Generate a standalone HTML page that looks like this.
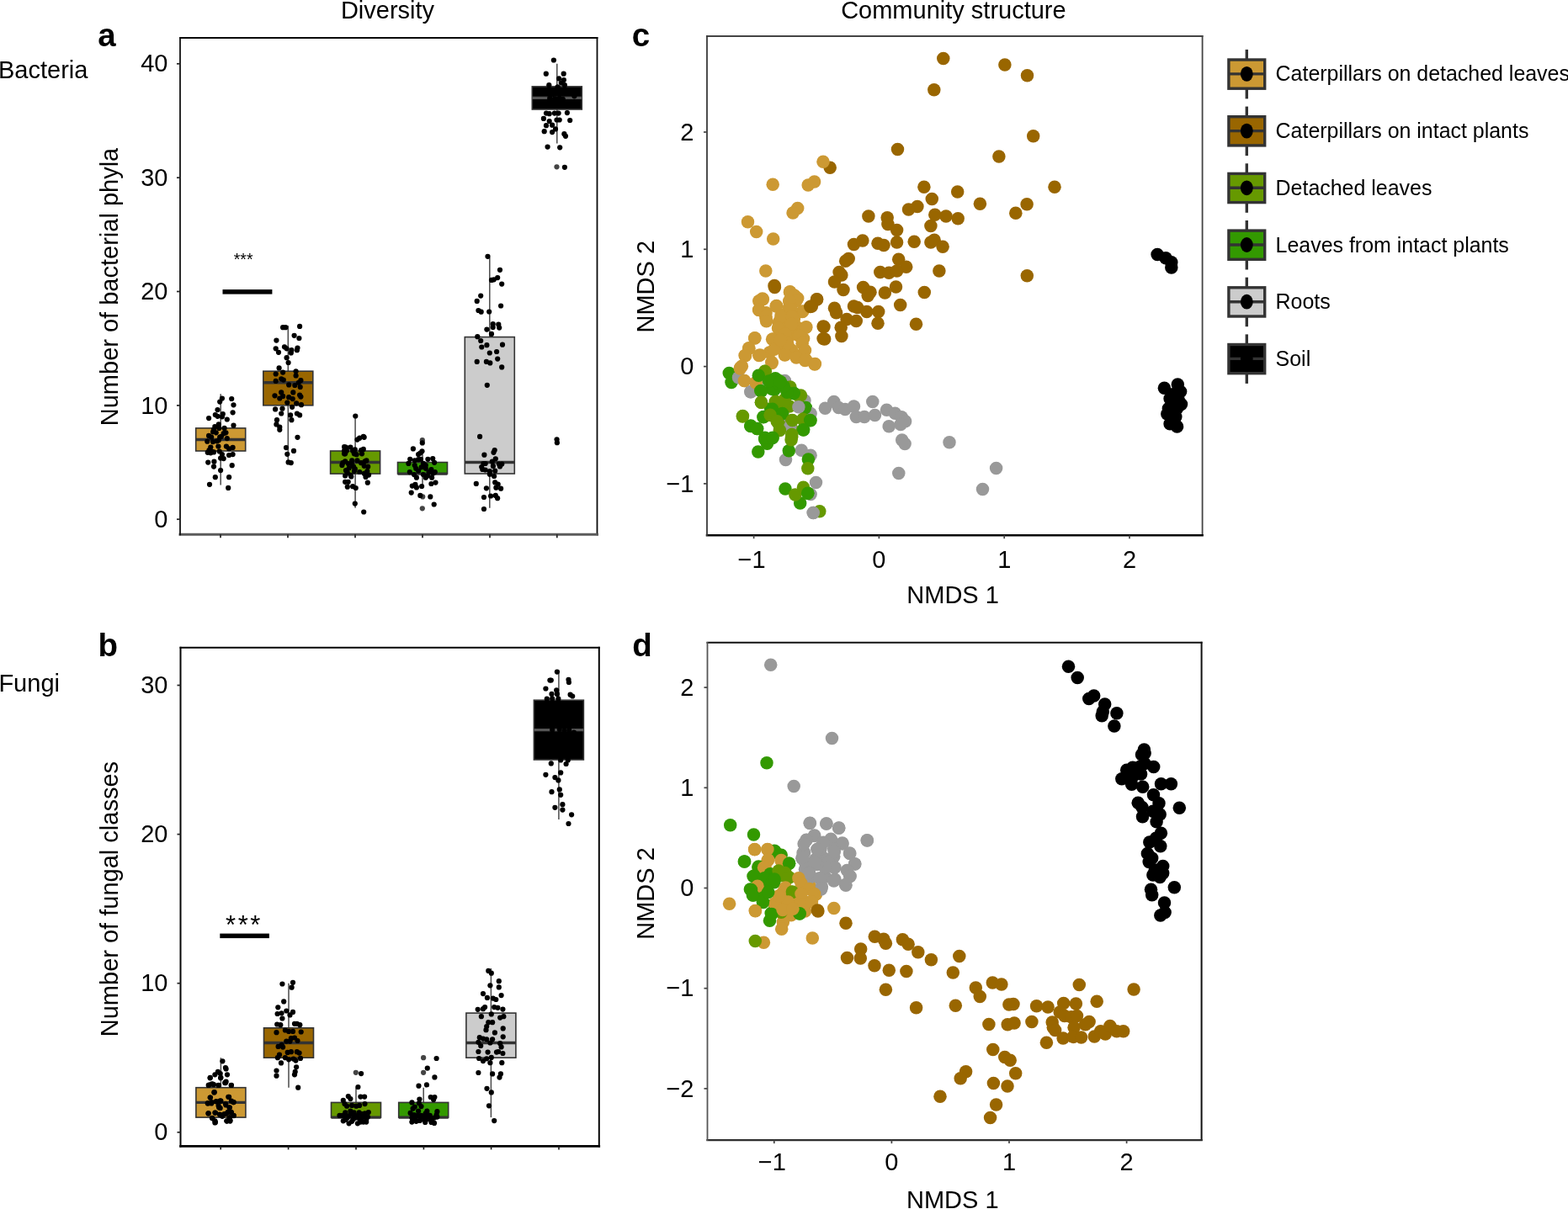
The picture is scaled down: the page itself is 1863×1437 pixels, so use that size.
<!DOCTYPE html>
<html><head><meta charset="utf-8"><title>Diversity and community structure</title>
<style>html,body{margin:0;padding:0;background:#fff;}body{width:1863px;height:1437px;overflow:hidden;}svg{display:block;}</style>
</head><body>
<svg width="1863" height="1437" viewBox="0 0 1863 1437" font-family="'Liberation Sans', Arial, Helvetica, sans-serif" fill="#000"><text x="460.5" y="21.7" font-size="29.0" text-anchor="middle" font-weight="normal" >Diversity</text>
<text x="1132.9" y="22.3" font-size="29.0" text-anchor="middle" font-weight="normal" >Community structure</text>
<text x="-2" y="92.5" font-size="29.0" text-anchor="start" font-weight="normal" >Bacteria</text>
<text x="-1.6" y="822.1" font-size="29.0" text-anchor="start" font-weight="normal" >Fungi</text>
<text x="116.2" y="54.5" font-size="38.5" text-anchor="start" font-weight="bold" >a</text>
<text x="116.6" y="780.3" font-size="38.5" text-anchor="start" font-weight="bold" >b</text>
<text x="750.8" y="54.6" font-size="38.5" text-anchor="start" font-weight="bold" >c</text>
<text x="751.2" y="780.2" font-size="38.5" text-anchor="start" font-weight="bold" >d</text>
<line x1="214" y1="45" x2="709.5" y2="45" stroke="#0a0a0a" stroke-width="1.8" stroke-linecap="square"/>
<line x1="709.5" y1="45" x2="709.5" y2="635.3" stroke="#0a0a0a" stroke-width="1.8" stroke-linecap="square"/>
<line x1="214" y1="635.3" x2="709.5" y2="635.3" stroke="#5a5a5a" stroke-width="3.0" stroke-linecap="square"/>
<line x1="214" y1="45" x2="214" y2="635.3" stroke="#111" stroke-width="1.8" stroke-linecap="square"/>
<line x1="210" y1="617.2" x2="214" y2="617.2" stroke="#222" stroke-width="1.7"/>
<text x="199.5" y="626.8" font-size="29.0" text-anchor="end" font-weight="normal" >0</text>
<line x1="210" y1="481.9" x2="214" y2="481.9" stroke="#222" stroke-width="1.7"/>
<text x="199.5" y="491.5" font-size="29.0" text-anchor="end" font-weight="normal" >10</text>
<line x1="210" y1="346.5" x2="214" y2="346.5" stroke="#222" stroke-width="1.7"/>
<text x="199.5" y="356.1" font-size="29.0" text-anchor="end" font-weight="normal" >20</text>
<line x1="210" y1="211.2" x2="214" y2="211.2" stroke="#222" stroke-width="1.7"/>
<text x="199.5" y="220.8" font-size="29.0" text-anchor="end" font-weight="normal" >30</text>
<line x1="210" y1="75.8" x2="214" y2="75.8" stroke="#222" stroke-width="1.7"/>
<text x="199.5" y="85.4" font-size="29.0" text-anchor="end" font-weight="normal" >40</text>
<line x1="262" y1="635.3" x2="262" y2="639.3" stroke="#222" stroke-width="1.7"/>
<line x1="342" y1="635.3" x2="342" y2="639.3" stroke="#222" stroke-width="1.7"/>
<line x1="422" y1="635.3" x2="422" y2="639.3" stroke="#222" stroke-width="1.7"/>
<line x1="502" y1="635.3" x2="502" y2="639.3" stroke="#222" stroke-width="1.7"/>
<line x1="582" y1="635.3" x2="582" y2="639.3" stroke="#222" stroke-width="1.7"/>
<line x1="661.8" y1="635.3" x2="661.8" y2="639.3" stroke="#222" stroke-width="1.7"/>
<text transform="translate(140.3,341) rotate(-90)" font-size="29.0" text-anchor="middle">Number of bacterial phyla</text>
<line x1="262.2" y1="468.3" x2="262.2" y2="508.9" stroke="#4a4a4a" stroke-width="1.5"/>
<line x1="262.2" y1="536" x2="262.2" y2="576.6" stroke="#4a4a4a" stroke-width="1.5"/>
<rect x="232.7" y="508.9" width="59" height="27.1" fill="#CC9933" stroke="#333333" stroke-width="1.6"/>
<line x1="232.7" y1="522.5" x2="291.7" y2="522.5" stroke="#333333" stroke-width="3.4"/>
<g fill="#000"><circle cx="263.9" cy="473.6" r="3.1"/><circle cx="275.2" cy="474" r="3.1"/><circle cx="261.2" cy="477.6" r="3.1"/><circle cx="277.5" cy="481.3" r="3.1"/><circle cx="258.5" cy="487.1" r="3.1"/><circle cx="276.6" cy="490.3" r="3.1"/><circle cx="255.8" cy="493" r="3.1"/><circle cx="258.5" cy="494.8" r="3.1"/><circle cx="264.8" cy="492.1" r="3.1"/><circle cx="263.9" cy="495.3" r="3.1"/><circle cx="248.1" cy="497.1" r="3.1"/><circle cx="269.8" cy="498.5" r="3.1"/><circle cx="259.8" cy="504.3" r="3.1"/><circle cx="255.3" cy="507.1" r="3.1"/><circle cx="277.5" cy="505.7" r="3.1"/><circle cx="266.6" cy="508.9" r="3.1"/><circle cx="260.3" cy="508.9" r="3.1"/><circle cx="254" cy="510.7" r="3.1"/><circle cx="253.1" cy="513.4" r="3.1"/><circle cx="268.4" cy="514.3" r="3.1"/><circle cx="248.1" cy="517.9" r="3.1"/><circle cx="251.2" cy="519.7" r="3.1"/><circle cx="261.2" cy="519.7" r="3.1"/><circle cx="263" cy="518.8" r="3.1"/><circle cx="269.8" cy="521.1" r="3.1"/><circle cx="246.3" cy="524.7" r="3.1"/><circle cx="253.1" cy="525.2" r="3.1"/><circle cx="257.6" cy="524.3" r="3.1"/><circle cx="259.8" cy="523.3" r="3.1"/><circle cx="259.4" cy="530.6" r="3.1"/><circle cx="250.3" cy="531.5" r="3.1"/><circle cx="268.9" cy="530.6" r="3.1"/><circle cx="272.1" cy="533.3" r="3.1"/><circle cx="276.6" cy="531.9" r="3.1"/><circle cx="248.5" cy="535.1" r="3.1"/><circle cx="246.7" cy="537.8" r="3.1"/><circle cx="250.3" cy="538.3" r="3.1"/><circle cx="254" cy="537.4" r="3.1"/><circle cx="260.7" cy="536.5" r="3.1"/><circle cx="263.9" cy="540.1" r="3.1"/><circle cx="262.1" cy="544.6" r="3.1"/><circle cx="265.7" cy="545.1" r="3.1"/><circle cx="272.1" cy="541" r="3.1"/><circle cx="276.6" cy="540.1" r="3.1"/><circle cx="247.2" cy="549.6" r="3.1"/><circle cx="254.4" cy="548.7" r="3.1"/><circle cx="254" cy="554.6" r="3.1"/><circle cx="275.7" cy="553.2" r="3.1"/><circle cx="262.1" cy="559.1" r="3.1"/><circle cx="255.8" cy="567.2" r="3.1"/><circle cx="272.1" cy="567.2" r="3.1"/><circle cx="249" cy="575.8" r="3.1"/><circle cx="271.2" cy="579.9" r="3.1"/><circle cx="256.7" cy="514.3" r="3.1"/><circle cx="265.7" cy="515.2" r="3.1"/><circle cx="252.1" cy="536.9" r="3.1"/></g>
<line x1="342.3" y1="387.1" x2="342.3" y2="441.2" stroke="#4a4a4a" stroke-width="1.5"/>
<line x1="342.3" y1="481.9" x2="342.3" y2="549.5" stroke="#4a4a4a" stroke-width="1.5"/>
<rect x="312.8" y="441.2" width="59" height="40.6" fill="#996600" stroke="#333333" stroke-width="1.6"/>
<line x1="312.8" y1="454.8" x2="371.8" y2="454.8" stroke="#333333" stroke-width="3.4"/>
<g fill="#000"><circle cx="336.1" cy="389.2" r="3.1"/><circle cx="339.3" cy="389.2" r="3.1"/><circle cx="356.1" cy="387.9" r="3.1"/><circle cx="328.4" cy="404.6" r="3.1"/><circle cx="349.6" cy="398.8" r="3.1"/><circle cx="355.4" cy="402" r="3.1"/><circle cx="327.7" cy="414.3" r="3.1"/><circle cx="331" cy="418.8" r="3.1"/><circle cx="338" cy="412.3" r="3.1"/><circle cx="340.6" cy="414.3" r="3.1"/><circle cx="346.4" cy="416.2" r="3.1"/><circle cx="345.8" cy="419.4" r="3.1"/><circle cx="353.5" cy="413.6" r="3.1"/><circle cx="352.9" cy="416.2" r="3.1"/><circle cx="340.6" cy="425.2" r="3.1"/><circle cx="342.6" cy="431" r="3.1"/><circle cx="331.6" cy="437.4" r="3.1"/><circle cx="327.7" cy="444.5" r="3.1"/><circle cx="336.1" cy="442.6" r="3.1"/><circle cx="351.6" cy="441.3" r="3.1"/><circle cx="351.6" cy="446.5" r="3.1"/><circle cx="327.7" cy="452.9" r="3.1"/><circle cx="334.2" cy="450.3" r="3.1"/><circle cx="336.8" cy="451.6" r="3.1"/><circle cx="357.4" cy="452.2" r="3.1"/><circle cx="354.8" cy="454.8" r="3.1"/><circle cx="343.2" cy="457.4" r="3.1"/><circle cx="350.3" cy="458" r="3.1"/><circle cx="356.7" cy="460" r="3.1"/><circle cx="334.2" cy="466.4" r="3.1"/><circle cx="326.5" cy="470.3" r="3.1"/><circle cx="332.3" cy="473.5" r="3.1"/><circle cx="336.1" cy="470.9" r="3.1"/><circle cx="348.3" cy="466.4" r="3.1"/><circle cx="343.2" cy="472.2" r="3.1"/><circle cx="347.7" cy="474.1" r="3.1"/><circle cx="356.1" cy="469.6" r="3.1"/><circle cx="357.4" cy="471.6" r="3.1"/><circle cx="341.3" cy="478.6" r="3.1"/><circle cx="352.2" cy="479.3" r="3.1"/><circle cx="358" cy="481.2" r="3.1"/><circle cx="347.1" cy="483.8" r="3.1"/><circle cx="327.1" cy="486.4" r="3.1"/><circle cx="335.5" cy="485.7" r="3.1"/><circle cx="334.2" cy="491.5" r="3.1"/><circle cx="345.1" cy="493.4" r="3.1"/><circle cx="352.9" cy="491.5" r="3.1"/><circle cx="356.1" cy="493.4" r="3.1"/><circle cx="346.4" cy="499.2" r="3.1"/><circle cx="329" cy="499.2" r="3.1"/><circle cx="328.4" cy="504.4" r="3.1"/><circle cx="332.3" cy="507.6" r="3.1"/><circle cx="332.3" cy="510.8" r="3.1"/><circle cx="353.5" cy="519.8" r="3.1"/><circle cx="340" cy="532.1" r="3.1"/><circle cx="341.3" cy="539.8" r="3.1"/><circle cx="349" cy="535.9" r="3.1"/><circle cx="342.6" cy="549.4" r="3.1"/><circle cx="345.8" cy="550.1" r="3.1"/></g>
<line x1="422.1" y1="495.4" x2="422.1" y2="536" stroke="#4a4a4a" stroke-width="1.5"/>
<line x1="422.1" y1="563.1" x2="422.1" y2="603.7" stroke="#4a4a4a" stroke-width="1.5"/>
<rect x="392.6" y="536" width="59" height="27.1" fill="#669900" stroke="#333333" stroke-width="1.6"/>
<line x1="392.6" y1="549.5" x2="451.6" y2="549.5" stroke="#333333" stroke-width="3.4"/>
<g fill="#000"><circle cx="422.3" cy="494.5" r="3.1"/><circle cx="424.5" cy="522.6" r="3.1"/><circle cx="427.2" cy="520.7" r="3.1"/><circle cx="431.8" cy="518.9" r="3.1"/><circle cx="432.7" cy="519.8" r="3.1"/><circle cx="409.1" cy="531.2" r="3.1"/><circle cx="411" cy="531.6" r="3.1"/><circle cx="416.4" cy="531.6" r="3.1"/><circle cx="409.1" cy="535.7" r="3.1"/><circle cx="409.1" cy="539.3" r="3.1"/><circle cx="411.9" cy="535.7" r="3.1"/><circle cx="419.1" cy="535.7" r="3.1"/><circle cx="420.9" cy="539.3" r="3.1"/><circle cx="423.6" cy="540.2" r="3.1"/><circle cx="421.8" cy="534.3" r="3.1"/><circle cx="429.1" cy="535.2" r="3.1"/><circle cx="431.8" cy="533.9" r="3.1"/><circle cx="430" cy="539.3" r="3.1"/><circle cx="410.1" cy="539.3" r="3.1"/><circle cx="406.4" cy="552.9" r="3.1"/><circle cx="407.3" cy="550.2" r="3.1"/><circle cx="410.1" cy="548.3" r="3.1"/><circle cx="413.7" cy="551.1" r="3.1"/><circle cx="418.2" cy="547.4" r="3.1"/><circle cx="418.2" cy="552" r="3.1"/><circle cx="420" cy="554.7" r="3.1"/><circle cx="421.8" cy="557.4" r="3.1"/><circle cx="424.5" cy="547.4" r="3.1"/><circle cx="429.1" cy="550.2" r="3.1"/><circle cx="433.6" cy="548.3" r="3.1"/><circle cx="435.4" cy="547.4" r="3.1"/><circle cx="432.7" cy="553.8" r="3.1"/><circle cx="437.2" cy="554.7" r="3.1"/><circle cx="411" cy="559.2" r="3.1"/><circle cx="412.8" cy="561.9" r="3.1"/><circle cx="410.1" cy="565.5" r="3.1"/><circle cx="416.4" cy="564.6" r="3.1"/><circle cx="417.3" cy="566.4" r="3.1"/><circle cx="427.2" cy="561" r="3.1"/><circle cx="432.7" cy="562.8" r="3.1"/><circle cx="436.3" cy="560.1" r="3.1"/><circle cx="438.1" cy="564.6" r="3.1"/><circle cx="434.5" cy="566.9" r="3.1"/><circle cx="410.1" cy="572.8" r="3.1"/><circle cx="413.7" cy="572.8" r="3.1"/><circle cx="412.8" cy="578.7" r="3.1"/><circle cx="419.1" cy="578.2" r="3.1"/><circle cx="422.7" cy="580" r="3.1"/><circle cx="436.8" cy="573.7" r="3.1"/><circle cx="421.8" cy="598.6" r="3.1"/><circle cx="432.2" cy="608.5" r="3.1"/><circle cx="414.6" cy="556.5" r="3.1"/><circle cx="420.9" cy="560.1" r="3.1"/></g>
<line x1="502" y1="536" x2="502" y2="549.5" stroke="#4a4a4a" stroke-width="1.5"/>
<line x1="502" y1="563.1" x2="502" y2="576.6" stroke="#4a4a4a" stroke-width="1.5"/>
<rect x="472.5" y="549.5" width="59" height="13.5" fill="#339900" stroke="#333333" stroke-width="1.6"/>
<line x1="472.5" y1="563.1" x2="531.5" y2="563.1" stroke="#333333" stroke-width="3.4"/>
<circle cx="501.8" cy="523.2" r="3.1" fill="#444"/>
<circle cx="501.8" cy="604.3" r="3.1" fill="#444"/>
<circle cx="502.2" cy="590.4" r="3.1" fill="#444"/>
<g fill="#000"><circle cx="501.8" cy="526.4" r="3.1"/><circle cx="490.9" cy="533.4" r="3.1"/><circle cx="501.5" cy="536.3" r="3.1"/><circle cx="497.1" cy="540" r="3.1"/><circle cx="499.3" cy="538.5" r="3.1"/><circle cx="487.2" cy="545.8" r="3.1"/><circle cx="485.4" cy="550.9" r="3.1"/><circle cx="492.7" cy="547.3" r="3.1"/><circle cx="497.1" cy="546.2" r="3.1"/><circle cx="500" cy="545.8" r="3.1"/><circle cx="508.4" cy="545.8" r="3.1"/><circle cx="514.2" cy="545.1" r="3.1"/><circle cx="516.1" cy="549.8" r="3.1"/><circle cx="502.9" cy="550.9" r="3.1"/><circle cx="505.8" cy="553.1" r="3.1"/><circle cx="492.7" cy="553.1" r="3.1"/><circle cx="494.2" cy="556.8" r="3.1"/><circle cx="497.1" cy="559.7" r="3.1"/><circle cx="486.8" cy="561.1" r="3.1"/><circle cx="492" cy="564.1" r="3.1"/><circle cx="494.9" cy="567.7" r="3.1"/><circle cx="502.9" cy="564.1" r="3.1"/><circle cx="505.8" cy="567.7" r="3.1"/><circle cx="509.5" cy="561.1" r="3.1"/><circle cx="512.4" cy="558.2" r="3.1"/><circle cx="514.6" cy="562.6" r="3.1"/><circle cx="516.8" cy="561.1" r="3.1"/><circle cx="513.1" cy="567.7" r="3.1"/><circle cx="508" cy="565.5" r="3.1"/><circle cx="489.8" cy="577.6" r="3.1"/><circle cx="493.4" cy="575.8" r="3.1"/><circle cx="494.9" cy="579.4" r="3.1"/><circle cx="501.1" cy="578" r="3.1"/><circle cx="512.4" cy="575" r="3.1"/><circle cx="517.5" cy="573.6" r="3.1"/><circle cx="488.7" cy="585.6" r="3.1"/><circle cx="499.3" cy="588.9" r="3.1"/><circle cx="511.3" cy="590.4" r="3.1"/><circle cx="515.7" cy="599.5" r="3.1"/><circle cx="505.8" cy="556.8" r="3.1"/><circle cx="500.7" cy="555.3" r="3.1"/></g>
<line x1="581.8" y1="305.9" x2="581.8" y2="400.6" stroke="#4a4a4a" stroke-width="1.5"/>
<line x1="581.8" y1="563.1" x2="581.8" y2="603.7" stroke="#4a4a4a" stroke-width="1.5"/>
<rect x="552.3" y="400.6" width="59" height="162.4" fill="#CCCCCC" stroke="#333333" stroke-width="1.6"/>
<line x1="552.3" y1="549.5" x2="611.3" y2="549.5" stroke="#333333" stroke-width="3.4"/>
<g fill="#000"><circle cx="579.5" cy="304.8" r="3.1"/><circle cx="594" cy="320.8" r="3.1"/><circle cx="591.2" cy="330.1" r="3.1"/><circle cx="584" cy="332.9" r="3.1"/><circle cx="586.8" cy="332.3" r="3.1"/><circle cx="596.2" cy="337.6" r="3.1"/><circle cx="571.2" cy="351.6" r="3.1"/><circle cx="566.7" cy="357.9" r="3.1"/><circle cx="595.1" cy="363.5" r="3.1"/><circle cx="568.4" cy="369" r="3.1"/><circle cx="571.7" cy="370.7" r="3.1"/><circle cx="581.2" cy="370.5" r="3.1"/><circle cx="585.7" cy="385.2" r="3.1"/><circle cx="585.7" cy="389.1" r="3.1"/><circle cx="592.3" cy="385.7" r="3.1"/><circle cx="593.2" cy="389.6" r="3.1"/><circle cx="578.4" cy="391.6" r="3.1"/><circle cx="584" cy="396.9" r="3.1"/><circle cx="567.3" cy="400.2" r="3.1"/><circle cx="571.2" cy="405" r="3.1"/><circle cx="578.4" cy="410.2" r="3.1"/><circle cx="572.3" cy="412.5" r="3.1"/><circle cx="597" cy="409.7" r="3.1"/><circle cx="581.8" cy="419.5" r="3.1"/><circle cx="590.1" cy="418" r="3.1"/><circle cx="591.2" cy="426.6" r="3.1"/><circle cx="566.7" cy="429.9" r="3.1"/><circle cx="577.9" cy="429.9" r="3.1"/><circle cx="582.3" cy="431.4" r="3.1"/><circle cx="596.2" cy="436.4" r="3.1"/><circle cx="578.8" cy="457.8" r="3.1"/><circle cx="570.1" cy="518.9" r="3.1"/><circle cx="575.4" cy="540.7" r="3.1"/><circle cx="586.5" cy="537.8" r="3.1"/><circle cx="587.7" cy="535" r="3.1"/><circle cx="588.8" cy="545.3" r="3.1"/><circle cx="584.8" cy="548.7" r="3.1"/><circle cx="574.4" cy="551" r="3.1"/><circle cx="576.7" cy="551" r="3.1"/><circle cx="572.2" cy="555.1" r="3.1"/><circle cx="573.3" cy="557.9" r="3.1"/><circle cx="576.7" cy="558.5" r="3.1"/><circle cx="585.9" cy="553.9" r="3.1"/><circle cx="592.8" cy="551.6" r="3.1"/><circle cx="596.3" cy="551.6" r="3.1"/><circle cx="594" cy="554.5" r="3.1"/><circle cx="581.9" cy="560.2" r="3.1"/><circle cx="581.9" cy="563.7" r="3.1"/><circle cx="588.2" cy="559.7" r="3.1"/><circle cx="587.1" cy="566" r="3.1"/><circle cx="565.8" cy="574.9" r="3.1"/><circle cx="588.2" cy="573.4" r="3.1"/><circle cx="591.7" cy="575.7" r="3.1"/><circle cx="589.4" cy="579.7" r="3.1"/><circle cx="595.1" cy="580.7" r="3.1"/><circle cx="577.9" cy="580.3" r="3.1"/><circle cx="575" cy="591" r="3.1"/><circle cx="583.1" cy="589.5" r="3.1"/><circle cx="588.8" cy="588.9" r="3.1"/><circle cx="591.1" cy="592.2" r="3.1"/><circle cx="575" cy="605" r="3.1"/></g>
<line x1="661.8" y1="75.8" x2="661.8" y2="102.9" stroke="#4a4a4a" stroke-width="1.5"/>
<line x1="661.8" y1="129.9" x2="661.8" y2="170.5" stroke="#4a4a4a" stroke-width="1.5"/>
<rect x="632.3" y="102.9" width="59" height="27.1" fill="#000000" stroke="#333333" stroke-width="1.6"/>
<line x1="632.3" y1="116.4" x2="691.3" y2="116.4" stroke="#555" stroke-width="3.4"/>
<circle cx="661.5" cy="198.3" r="3.1" fill="#444"/>
<g fill="#000"><circle cx="657.9" cy="71.5" r="3.1"/><circle cx="648.8" cy="87.7" r="3.1"/><circle cx="669.7" cy="87.7" r="3.1"/><circle cx="664.1" cy="93.4" r="3.1"/><circle cx="669.9" cy="95" r="3.1"/><circle cx="666.8" cy="98.6" r="3.1"/><circle cx="670.9" cy="101.2" r="3.1"/><circle cx="652.3" cy="101.2" r="3.1"/><circle cx="662.6" cy="103.3" r="3.1"/><circle cx="649" cy="134.6" r="3.1"/><circle cx="652.7" cy="135.2" r="3.1"/><circle cx="658.9" cy="134.6" r="3.1"/><circle cx="663.6" cy="134.6" r="3.1"/><circle cx="673.9" cy="134.1" r="3.1"/><circle cx="645.9" cy="140.9" r="3.1"/><circle cx="661.5" cy="142.5" r="3.1"/><circle cx="664.7" cy="142.5" r="3.1"/><circle cx="677.2" cy="143" r="3.1"/><circle cx="652.7" cy="144" r="3.1"/><circle cx="649" cy="149.2" r="3.1"/><circle cx="656.1" cy="148.7" r="3.1"/><circle cx="660" cy="153.4" r="3.1"/><circle cx="646.7" cy="156.2" r="3.1"/><circle cx="656.1" cy="157.1" r="3.1"/><circle cx="670.4" cy="159.2" r="3.1"/><circle cx="672" cy="161.8" r="3.1"/><circle cx="650.6" cy="174.6" r="3.1"/><circle cx="665.2" cy="175.3" r="3.1"/><circle cx="670.9" cy="198.8" r="3.1"/><circle cx="651.1" cy="107" r="3.1"/><circle cx="656.3" cy="112.2" r="3.1"/><circle cx="666.8" cy="110.1" r="3.1"/><circle cx="677.2" cy="107" r="3.1"/><circle cx="682.4" cy="114.3" r="3.1"/><circle cx="645.9" cy="122.6" r="3.1"/><circle cx="661.5" cy="122.6" r="3.1"/><circle cx="672" cy="124.7" r="3.1"/><circle cx="661.6" cy="522.3" r="3.1"/><circle cx="661.9" cy="526.2" r="3.1"/><circle cx="653.2" cy="116.9" r="3.1"/><circle cx="659.4" cy="117.4" r="3.1"/><circle cx="664.7" cy="116.9" r="3.1"/><circle cx="668.8" cy="117.9" r="3.1"/><circle cx="656.3" cy="118.5" r="3.1"/></g>
<line x1="214.5" y1="769.8" x2="711.8" y2="769.8" stroke="#050505" stroke-width="2.0" stroke-linecap="square"/>
<line x1="711.8" y1="769.8" x2="711.8" y2="1362.4" stroke="#050505" stroke-width="2.0" stroke-linecap="square"/>
<line x1="214.5" y1="1362.4" x2="711.8" y2="1362.4" stroke="#000" stroke-width="2.6" stroke-linecap="square"/>
<line x1="214.5" y1="769.8" x2="214.5" y2="1362.4" stroke="#050505" stroke-width="2.0" stroke-linecap="square"/>
<line x1="210.5" y1="1345.8" x2="214.5" y2="1345.8" stroke="#222" stroke-width="1.7"/>
<text x="199.5" y="1355.4" font-size="29.0" text-anchor="end" font-weight="normal" >0</text>
<line x1="210.5" y1="1168.7" x2="214.5" y2="1168.7" stroke="#222" stroke-width="1.7"/>
<text x="199.5" y="1178.3" font-size="29.0" text-anchor="end" font-weight="normal" >10</text>
<line x1="210.5" y1="991.6" x2="214.5" y2="991.6" stroke="#222" stroke-width="1.7"/>
<text x="199.5" y="1001.2" font-size="29.0" text-anchor="end" font-weight="normal" >20</text>
<line x1="210.5" y1="814.5" x2="214.5" y2="814.5" stroke="#222" stroke-width="1.7"/>
<text x="199.5" y="824.1" font-size="29.0" text-anchor="end" font-weight="normal" >30</text>
<line x1="262.2" y1="1362.4" x2="262.2" y2="1366.4" stroke="#222" stroke-width="1.7"/>
<line x1="342.6" y1="1362.4" x2="342.6" y2="1366.4" stroke="#222" stroke-width="1.7"/>
<line x1="423" y1="1362.4" x2="423" y2="1366.4" stroke="#222" stroke-width="1.7"/>
<line x1="503.4" y1="1362.4" x2="503.4" y2="1366.4" stroke="#222" stroke-width="1.7"/>
<line x1="583.6" y1="1362.4" x2="583.6" y2="1366.4" stroke="#222" stroke-width="1.7"/>
<line x1="664" y1="1362.4" x2="664" y2="1366.4" stroke="#222" stroke-width="1.7"/>
<text transform="translate(140.3,1068.6) rotate(-90)" font-size="29.0" text-anchor="middle">Number of fungal classes</text>
<line x1="262.4" y1="1257.2" x2="262.4" y2="1292.7" stroke="#4a4a4a" stroke-width="1.5"/>
<line x1="262.4" y1="1328.1" x2="262.4" y2="1328.1" stroke="#4a4a4a" stroke-width="1.5"/>
<rect x="232.9" y="1292.7" width="59" height="35.4" fill="#CC9933" stroke="#333333" stroke-width="1.6"/>
<line x1="232.9" y1="1310.4" x2="291.9" y2="1310.4" stroke="#333333" stroke-width="3.4"/>
<g fill="#000"><circle cx="264.4" cy="1261.3" r="3.1"/><circle cx="267.9" cy="1269" r="3.1"/><circle cx="268.6" cy="1270.4" r="3.1"/><circle cx="258.9" cy="1273.9" r="3.1"/><circle cx="255.4" cy="1277.3" r="3.1"/><circle cx="261.7" cy="1276" r="3.1"/><circle cx="262.4" cy="1280.8" r="3.1"/><circle cx="270" cy="1277.3" r="3.1"/><circle cx="249.8" cy="1280.8" r="3.1"/><circle cx="247.7" cy="1289.9" r="3.1"/><circle cx="251.2" cy="1288.5" r="3.1"/><circle cx="254" cy="1289.2" r="3.1"/><circle cx="259.6" cy="1289.9" r="3.1"/><circle cx="267.2" cy="1287.1" r="3.1"/><circle cx="268.6" cy="1285.7" r="3.1"/><circle cx="274.9" cy="1289.9" r="3.1"/><circle cx="254.7" cy="1298.2" r="3.1"/><circle cx="249.8" cy="1304.5" r="3.1"/><circle cx="272.1" cy="1303.8" r="3.1"/><circle cx="247.1" cy="1311.4" r="3.1"/><circle cx="251.2" cy="1311.4" r="3.1"/><circle cx="256.8" cy="1309.4" r="3.1"/><circle cx="262.4" cy="1308.7" r="3.1"/><circle cx="259.6" cy="1314.2" r="3.1"/><circle cx="267.9" cy="1312.1" r="3.1"/><circle cx="274.9" cy="1308.7" r="3.1"/><circle cx="277.7" cy="1310.1" r="3.1"/><circle cx="272.8" cy="1316.3" r="3.1"/><circle cx="261.7" cy="1317" r="3.1"/><circle cx="247.7" cy="1323.3" r="3.1"/><circle cx="255.4" cy="1322.6" r="3.1"/><circle cx="261" cy="1324.7" r="3.1"/><circle cx="266.5" cy="1324" r="3.1"/><circle cx="270.7" cy="1321.9" r="3.1"/><circle cx="274.9" cy="1322.6" r="3.1"/><circle cx="277.7" cy="1326.1" r="3.1"/><circle cx="263.8" cy="1326.1" r="3.1"/><circle cx="251.9" cy="1328.8" r="3.1"/><circle cx="255.4" cy="1332.3" r="3.1"/><circle cx="255.4" cy="1334.4" r="3.1"/><circle cx="269.3" cy="1332.3" r="3.1"/><circle cx="273.5" cy="1331.6" r="3.1"/><circle cx="272.8" cy="1328.8" r="3.1"/><circle cx="249.6" cy="1281.3" r="3.1"/><circle cx="262.1" cy="1281.3" r="3.1"/><circle cx="248.4" cy="1289.6" r="3.1"/><circle cx="252.5" cy="1288.4" r="3.1"/><circle cx="259.6" cy="1290" r="3.1"/><circle cx="268" cy="1287.1" r="3.1"/><circle cx="274.7" cy="1290" r="3.1"/><circle cx="254.4" cy="1298.4" r="3.1"/><circle cx="249.8" cy="1304.6" r="3.1"/><circle cx="271.3" cy="1303.8" r="3.1"/><circle cx="246.7" cy="1311.3" r="3.1"/><circle cx="251.7" cy="1310.1" r="3.1"/><circle cx="256.7" cy="1309.2" r="3.1"/><circle cx="261.7" cy="1308.4" r="3.1"/><circle cx="260.1" cy="1316.3" r="3.1"/><circle cx="268.4" cy="1313.4" r="3.1"/><circle cx="277.2" cy="1310.1" r="3.1"/><circle cx="272.6" cy="1316.7" r="3.1"/><circle cx="247.5" cy="1323.4" r="3.1"/><circle cx="255.9" cy="1322.6" r="3.1"/><circle cx="261.7" cy="1325.1" r="3.1"/><circle cx="268.4" cy="1323.8" r="3.1"/><circle cx="274.7" cy="1321.8" r="3.1"/><circle cx="277.6" cy="1325.9" r="3.1"/><circle cx="252.5" cy="1329.3" r="3.1"/><circle cx="255.9" cy="1333.9" r="3.1"/><circle cx="269.7" cy="1332.6" r="3.1"/><circle cx="273.4" cy="1332.6" r="3.1"/><circle cx="272.6" cy="1328" r="3.1"/><circle cx="264.2" cy="1326.8" r="3.1"/></g>
<line x1="343" y1="1168.7" x2="343" y2="1221.8" stroke="#4a4a4a" stroke-width="1.5"/>
<line x1="343" y1="1257.2" x2="343" y2="1292.7" stroke="#4a4a4a" stroke-width="1.5"/>
<rect x="313.5" y="1221.8" width="59" height="35.4" fill="#996600" stroke="#333333" stroke-width="1.6"/>
<line x1="313.5" y1="1239.5" x2="372.5" y2="1239.5" stroke="#333333" stroke-width="3.4"/>
<g fill="#000"><circle cx="335.4" cy="1169.5" r="3.1"/><circle cx="348" cy="1167.8" r="3.1"/><circle cx="346.6" cy="1173.7" r="3.1"/><circle cx="337.2" cy="1190.4" r="3.1"/><circle cx="330.3" cy="1197.3" r="3.1"/><circle cx="329.6" cy="1205" r="3.1"/><circle cx="334.5" cy="1204.3" r="3.1"/><circle cx="340.3" cy="1201.5" r="3.1"/><circle cx="344.5" cy="1206.4" r="3.1"/><circle cx="348" cy="1202.9" r="3.1"/><circle cx="335.4" cy="1210.5" r="3.1"/><circle cx="329.2" cy="1217.5" r="3.1"/><circle cx="333.3" cy="1218.2" r="3.1"/><circle cx="350" cy="1216.8" r="3.1"/><circle cx="352.8" cy="1216.8" r="3.1"/><circle cx="356.3" cy="1218.2" r="3.1"/><circle cx="328.5" cy="1227.2" r="3.1"/><circle cx="338.9" cy="1224.5" r="3.1"/><circle cx="343.1" cy="1225.9" r="3.1"/><circle cx="348" cy="1225.9" r="3.1"/><circle cx="357.7" cy="1226.5" r="3.1"/><circle cx="345.9" cy="1234.2" r="3.1"/><circle cx="350" cy="1233.5" r="3.1"/><circle cx="353.5" cy="1237" r="3.1"/><circle cx="340.3" cy="1237.7" r="3.1"/><circle cx="344.5" cy="1237.7" r="3.1"/><circle cx="334.7" cy="1241.9" r="3.1"/><circle cx="330.6" cy="1243.9" r="3.1"/><circle cx="336.1" cy="1244.6" r="3.1"/><circle cx="341.7" cy="1250.9" r="3.1"/><circle cx="345.9" cy="1250.2" r="3.1"/><circle cx="352.8" cy="1250.2" r="3.1"/><circle cx="355.6" cy="1251.6" r="3.1"/><circle cx="332" cy="1253.7" r="3.1"/><circle cx="329.9" cy="1257.2" r="3.1"/><circle cx="338.9" cy="1257.2" r="3.1"/><circle cx="343.1" cy="1259.3" r="3.1"/><circle cx="348.7" cy="1258.6" r="3.1"/><circle cx="351.4" cy="1260.6" r="3.1"/><circle cx="357" cy="1257.9" r="3.1"/><circle cx="334" cy="1263.4" r="3.1"/><circle cx="352.1" cy="1268.3" r="3.1"/><circle cx="350.7" cy="1273.9" r="3.1"/><circle cx="350" cy="1277.3" r="3.1"/><circle cx="328.5" cy="1272.5" r="3.1"/><circle cx="328.5" cy="1278.7" r="3.1"/><circle cx="354.2" cy="1292.7" r="3.1"/></g>
<line x1="423" y1="1292.7" x2="423" y2="1310.4" stroke="#4a4a4a" stroke-width="1.5"/>
<line x1="423" y1="1328.1" x2="423" y2="1328.1" stroke="#4a4a4a" stroke-width="1.5"/>
<rect x="393.5" y="1310.4" width="59" height="17.7" fill="#669900" stroke="#333333" stroke-width="1.6"/>
<line x1="393.5" y1="1328.1" x2="452.5" y2="1328.1" stroke="#333333" stroke-width="3.4"/>
<circle cx="422.8" cy="1274.8" r="3.1" fill="#444"/>
<g fill="#000"><circle cx="429.1" cy="1276.1" r="3.1"/><circle cx="425.4" cy="1292" r="3.1"/><circle cx="413.8" cy="1303.1" r="3.1"/><circle cx="416.4" cy="1306.1" r="3.1"/><circle cx="407.8" cy="1307.8" r="3.1"/><circle cx="428.4" cy="1303.6" r="3.1"/><circle cx="433.1" cy="1303.6" r="3.1"/><circle cx="433.5" cy="1312.1" r="3.1"/><circle cx="409.5" cy="1312.1" r="3.1"/><circle cx="412.1" cy="1314.7" r="3.1"/><circle cx="418.1" cy="1313.9" r="3.1"/><circle cx="423.2" cy="1314.7" r="3.1"/><circle cx="427.1" cy="1313.9" r="3.1"/><circle cx="410.3" cy="1322.4" r="3.1"/><circle cx="406.9" cy="1325.9" r="3.1"/><circle cx="410.3" cy="1325.9" r="3.1"/><circle cx="416.4" cy="1324.2" r="3.1"/><circle cx="420.6" cy="1325.9" r="3.1"/><circle cx="424.9" cy="1325.9" r="3.1"/><circle cx="430.1" cy="1324.2" r="3.1"/><circle cx="433.5" cy="1323.3" r="3.1"/><circle cx="437.8" cy="1322" r="3.1"/><circle cx="437" cy="1327.6" r="3.1"/><circle cx="407.8" cy="1332.3" r="3.1"/><circle cx="414.6" cy="1335.3" r="3.1"/><circle cx="424.9" cy="1335.3" r="3.1"/><circle cx="431.8" cy="1333.6" r="3.1"/><circle cx="435.2" cy="1333.6" r="3.1"/><circle cx="412.1" cy="1329.3" r="3.1"/><circle cx="419.8" cy="1330.2" r="3.1"/><circle cx="427.5" cy="1330.2" r="3.1"/><circle cx="416.4" cy="1320.7" r="3.1"/><circle cx="414.6" cy="1326.7" r="3.1"/><circle cx="423.2" cy="1328.5" r="3.1"/><circle cx="430.1" cy="1328.5" r="3.1"/><circle cx="433.5" cy="1326.7" r="3.1"/><circle cx="426.7" cy="1322.4" r="3.1"/><circle cx="420.6" cy="1322.4" r="3.1"/><circle cx="410.3" cy="1331" r="3.1"/><circle cx="435.2" cy="1331" r="3.1"/><circle cx="403.5" cy="1325.9" r="3.1"/><circle cx="418.1" cy="1332.8" r="3.1"/><circle cx="428.4" cy="1333.6" r="3.1"/></g>
<line x1="503.2" y1="1292.7" x2="503.2" y2="1310.4" stroke="#4a4a4a" stroke-width="1.5"/>
<line x1="503.2" y1="1328.1" x2="503.2" y2="1328.1" stroke="#4a4a4a" stroke-width="1.5"/>
<rect x="473.7" y="1310.4" width="59" height="17.7" fill="#339900" stroke="#333333" stroke-width="1.6"/>
<line x1="473.7" y1="1328.1" x2="532.7" y2="1328.1" stroke="#333333" stroke-width="3.4"/>
<circle cx="503.1" cy="1257.2" r="3.1" fill="#444"/>
<circle cx="503.1" cy="1274.8" r="3.1" fill="#444"/>
<g fill="#000"><circle cx="518.6" cy="1258" r="3.1"/><circle cx="507.8" cy="1269.6" r="3.1"/><circle cx="516.4" cy="1280.4" r="3.1"/><circle cx="497.5" cy="1290.7" r="3.1"/><circle cx="507" cy="1289.4" r="3.1"/><circle cx="498.4" cy="1306.6" r="3.1"/><circle cx="511.7" cy="1304" r="3.1"/><circle cx="516.4" cy="1304" r="3.1"/><circle cx="515.1" cy="1307" r="3.1"/><circle cx="489.4" cy="1310.4" r="3.1"/><circle cx="497.9" cy="1311.3" r="3.1"/><circle cx="500.5" cy="1315.1" r="3.1"/><circle cx="492.8" cy="1315.6" r="3.1"/><circle cx="490.6" cy="1317.7" r="3.1"/><circle cx="487.6" cy="1322.9" r="3.1"/><circle cx="497.1" cy="1320.7" r="3.1"/><circle cx="507.4" cy="1320.7" r="3.1"/><circle cx="505.7" cy="1323.3" r="3.1"/><circle cx="519.4" cy="1321.2" r="3.1"/><circle cx="518.6" cy="1325" r="3.1"/><circle cx="489.4" cy="1328.5" r="3.1"/><circle cx="493.6" cy="1328.5" r="3.1"/><circle cx="499.7" cy="1328.5" r="3.1"/><circle cx="504" cy="1326.7" r="3.1"/><circle cx="510.8" cy="1325.9" r="3.1"/><circle cx="516" cy="1328.5" r="3.1"/><circle cx="489.4" cy="1333.6" r="3.1"/><circle cx="494.5" cy="1332.8" r="3.1"/><circle cx="498.8" cy="1331.9" r="3.1"/><circle cx="505.2" cy="1334" r="3.1"/><circle cx="512.5" cy="1334" r="3.1"/><circle cx="516" cy="1334.9" r="3.1"/><circle cx="509.1" cy="1330.2" r="3.1"/><circle cx="491.9" cy="1325" r="3.1"/><circle cx="496.2" cy="1325.9" r="3.1"/><circle cx="502.2" cy="1330.2" r="3.1"/><circle cx="506.5" cy="1329.3" r="3.1"/><circle cx="513.4" cy="1331" r="3.1"/><circle cx="519.4" cy="1327.6" r="3.1"/><circle cx="493.6" cy="1331" r="3.1"/><circle cx="500.5" cy="1325.9" r="3.1"/><circle cx="508.2" cy="1325" r="3.1"/></g>
<line x1="583.4" y1="1151" x2="583.4" y2="1204.1" stroke="#4a4a4a" stroke-width="1.5"/>
<line x1="583.4" y1="1257.2" x2="583.4" y2="1328.1" stroke="#4a4a4a" stroke-width="1.5"/>
<rect x="553.9" y="1204.1" width="59" height="53.1" fill="#CCCCCC" stroke="#333333" stroke-width="1.6"/>
<line x1="553.9" y1="1239.5" x2="612.9" y2="1239.5" stroke="#333333" stroke-width="3.4"/>
<g fill="#000"><circle cx="580.3" cy="1153.9" r="3.1"/><circle cx="583.8" cy="1156.7" r="3.1"/><circle cx="592.8" cy="1166.2" r="3.1"/><circle cx="582.4" cy="1171.3" r="3.1"/><circle cx="592.8" cy="1173.4" r="3.1"/><circle cx="574" cy="1181.1" r="3.1"/><circle cx="578.9" cy="1185.9" r="3.1"/><circle cx="595.6" cy="1183.1" r="3.1"/><circle cx="585.8" cy="1186.6" r="3.1"/><circle cx="589.3" cy="1188" r="3.1"/><circle cx="576.1" cy="1197.1" r="3.1"/><circle cx="574" cy="1199.2" r="3.1"/><circle cx="567.7" cy="1199.8" r="3.1"/><circle cx="587.2" cy="1197.1" r="3.1"/><circle cx="591.4" cy="1197.8" r="3.1"/><circle cx="597.4" cy="1199.6" r="3.1"/><circle cx="583.8" cy="1205.4" r="3.1"/><circle cx="571.9" cy="1208.2" r="3.1"/><circle cx="594.2" cy="1209.6" r="3.1"/><circle cx="598.4" cy="1208.2" r="3.1"/><circle cx="580.3" cy="1215.2" r="3.1"/><circle cx="585.1" cy="1215.2" r="3.1"/><circle cx="578.2" cy="1220" r="3.1"/><circle cx="577.5" cy="1224.2" r="3.1"/><circle cx="597.7" cy="1222.4" r="3.1"/><circle cx="587.9" cy="1227.4" r="3.1"/><circle cx="597.7" cy="1232.3" r="3.1"/><circle cx="569.8" cy="1233.2" r="3.1"/><circle cx="574" cy="1234.6" r="3.1"/><circle cx="578.2" cy="1235.3" r="3.1"/><circle cx="585.1" cy="1235.3" r="3.1"/><circle cx="568.4" cy="1238.8" r="3.1"/><circle cx="571.2" cy="1243" r="3.1"/><circle cx="582.4" cy="1239.5" r="3.1"/><circle cx="594.2" cy="1240.2" r="3.1"/><circle cx="595.6" cy="1244.4" r="3.1"/><circle cx="568.4" cy="1250" r="3.1"/><circle cx="579.6" cy="1250.6" r="3.1"/><circle cx="590" cy="1250.6" r="3.1"/><circle cx="592.1" cy="1250" r="3.1"/><circle cx="597.4" cy="1252" r="3.1"/><circle cx="569.1" cy="1258" r="3.1"/><circle cx="574" cy="1261.1" r="3.1"/><circle cx="578.2" cy="1258.3" r="3.1"/><circle cx="583.8" cy="1256.9" r="3.1"/><circle cx="582.4" cy="1263.2" r="3.1"/><circle cx="596.3" cy="1263.2" r="3.1"/><circle cx="568.4" cy="1275" r="3.1"/><circle cx="585.1" cy="1276.4" r="3.1"/><circle cx="594.9" cy="1276.4" r="3.1"/><circle cx="593.5" cy="1280.6" r="3.1"/><circle cx="578.5" cy="1293.8" r="3.1"/><circle cx="583.8" cy="1298.4" r="3.1"/><circle cx="581" cy="1314.3" r="3.1"/><circle cx="587.2" cy="1332.1" r="3.1"/></g>
<line x1="663.9" y1="796.8" x2="663.9" y2="832.2" stroke="#4a4a4a" stroke-width="1.5"/>
<line x1="663.9" y1="903" x2="663.9" y2="973.9" stroke="#4a4a4a" stroke-width="1.5"/>
<rect x="634.4" y="832.2" width="59" height="70.8" fill="#000000" stroke="#333333" stroke-width="1.6"/>
<line x1="634.4" y1="867.6" x2="693.4" y2="867.6" stroke="#555" stroke-width="3.4"/>
<g fill="#000"><circle cx="661.9" cy="798.6" r="3.1"/><circle cx="653.4" cy="808.5" r="3.1"/><circle cx="654.8" cy="808.5" r="3.1"/><circle cx="675.5" cy="807.8" r="3.1"/><circle cx="675.9" cy="811" r="3.1"/><circle cx="648.4" cy="818.5" r="3.1"/><circle cx="661.2" cy="820.4" r="3.1"/><circle cx="655.5" cy="824.9" r="3.1"/><circle cx="661.9" cy="824.9" r="3.1"/><circle cx="677.6" cy="825.7" r="3.1"/><circle cx="680.2" cy="827.5" r="3.1"/><circle cx="649.8" cy="830.7" r="3.1"/><circle cx="656.2" cy="830.4" r="3.1"/><circle cx="663.4" cy="830.7" r="3.1"/><circle cx="654.8" cy="907.4" r="3.1"/><circle cx="672.6" cy="908" r="3.1"/><circle cx="666.2" cy="903.4" r="3.1"/><circle cx="674.8" cy="903.4" r="3.1"/><circle cx="666.2" cy="918.4" r="3.1"/><circle cx="648.4" cy="920.8" r="3.1"/><circle cx="659.4" cy="924.1" r="3.1"/><circle cx="663.4" cy="927.4" r="3.1"/><circle cx="664.8" cy="938.4" r="3.1"/><circle cx="655.5" cy="941.2" r="3.1"/><circle cx="666.2" cy="944.8" r="3.1"/><circle cx="668.4" cy="956.2" r="3.1"/><circle cx="659.4" cy="959.8" r="3.1"/><circle cx="668.4" cy="962.6" r="3.1"/><circle cx="679.1" cy="968.3" r="3.1"/><circle cx="675.5" cy="979" r="3.1"/><circle cx="650.5" cy="849.2" r="3.1"/><circle cx="664.8" cy="856.3" r="3.1"/><circle cx="679.1" cy="844.9" r="3.1"/><circle cx="657.7" cy="877.7" r="3.1"/><circle cx="671.9" cy="884.9" r="3.1"/><circle cx="681.9" cy="870.6" r="3.1"/><circle cx="650.5" cy="893.4" r="3.1"/><circle cx="656.2" cy="867.5" r="3.1"/><circle cx="664.8" cy="867" r="3.1"/><circle cx="676.2" cy="867.7" r="3.1"/><circle cx="670.5" cy="868.5" r="3.1"/></g>
<rect x="264.5" y="344.1" width="58.9" height="5.5" fill="#000"/>
<text x="289.1" y="314.5" font-size="19.5" text-anchor="middle" font-weight="normal" >***</text>
<rect x="261.3" y="1109.6" width="58.6" height="5.5" fill="#000"/>
<text x="268" y="1110.2" font-size="31" text-anchor="start" font-weight="normal" letter-spacing="2.6">***</text>
<line x1="840" y1="43" x2="1428.6" y2="43" stroke="#444" stroke-width="1.8" stroke-linecap="square"/>
<line x1="1428.6" y1="43" x2="1428.6" y2="636.2" stroke="#444" stroke-width="1.8" stroke-linecap="square"/>
<line x1="840" y1="636.2" x2="1428.6" y2="636.2" stroke="#050505" stroke-width="2.5" stroke-linecap="square"/>
<line x1="840" y1="43" x2="840" y2="636.2" stroke="#3a3a3a" stroke-width="1.8" stroke-linecap="square"/>
<line x1="836" y1="574.9" x2="840" y2="574.9" stroke="#444" stroke-width="1.7"/>
<text x="824.5" y="584.5" font-size="29.0" text-anchor="end" font-weight="normal" >&#8722;1</text>
<line x1="836" y1="435.6" x2="840" y2="435.6" stroke="#444" stroke-width="1.7"/>
<text x="824.5" y="445.2" font-size="29.0" text-anchor="end" font-weight="normal" >0</text>
<line x1="836" y1="296.3" x2="840" y2="296.3" stroke="#444" stroke-width="1.7"/>
<text x="824.5" y="305.9" font-size="29.0" text-anchor="end" font-weight="normal" >1</text>
<line x1="836" y1="157" x2="840" y2="157" stroke="#444" stroke-width="1.7"/>
<text x="824.5" y="166.6" font-size="29.0" text-anchor="end" font-weight="normal" >2</text>
<line x1="895.6" y1="636.2" x2="895.6" y2="640.2" stroke="#444" stroke-width="1.7"/>
<text x="893.1" y="674.6" font-size="29.0" text-anchor="middle" font-weight="normal" >&#8722;1</text>
<line x1="1044.4" y1="636.2" x2="1044.4" y2="640.2" stroke="#444" stroke-width="1.7"/>
<text x="1044.4" y="674.6" font-size="29.0" text-anchor="middle" font-weight="normal" >0</text>
<line x1="1193.2" y1="636.2" x2="1193.2" y2="640.2" stroke="#444" stroke-width="1.7"/>
<text x="1193.2" y="674.6" font-size="29.0" text-anchor="middle" font-weight="normal" >1</text>
<line x1="1342" y1="636.2" x2="1342" y2="640.2" stroke="#444" stroke-width="1.7"/>
<text x="1342" y="674.6" font-size="29.0" text-anchor="middle" font-weight="normal" >2</text>
<text x="1132.1" y="716.6" font-size="29.0" text-anchor="middle" font-weight="normal" >NMDS 1</text>
<text transform="translate(776.5,340.7) rotate(-90)" font-size="29.0" text-anchor="middle">NMDS 2</text>
<g fill="#996600"><circle cx="986.2" cy="199.2" r="7.75"/><circle cx="1031.9" cy="257.1" r="7.75"/><circle cx="1054.2" cy="258.8" r="7.75"/><circle cx="1054.9" cy="266.5" r="7.75"/><circle cx="1014.5" cy="290.5" r="7.75"/><circle cx="1024.9" cy="286" r="7.75"/><circle cx="1043" cy="289.2" r="7.75"/><circle cx="1050" cy="291.5" r="7.75"/><circle cx="1008.2" cy="307.5" r="7.75"/><circle cx="1004.7" cy="310.3" r="7.75"/><circle cx="997.1" cy="323.5" r="7.75"/><circle cx="999.9" cy="327" r="7.75"/><circle cx="991.5" cy="335.1" r="7.75"/><circle cx="1002" cy="344.4" r="7.75"/><circle cx="1045.8" cy="323.5" r="7.75"/><circle cx="1056.2" cy="324.2" r="7.75"/><circle cx="1025.6" cy="341.6" r="7.75"/><circle cx="1034" cy="347.2" r="7.75"/><circle cx="1031.2" cy="351.4" r="7.75"/><circle cx="1051.4" cy="347.9" r="7.75"/><circle cx="920.1" cy="339.5" r="7.75"/><circle cx="1120.8" cy="69.5" r="7.75"/><circle cx="1193.9" cy="77.1" r="7.75"/><circle cx="1220.5" cy="89.7" r="7.75"/><circle cx="1109.8" cy="106.8" r="7.75"/><circle cx="1227.7" cy="161.8" r="7.75"/><circle cx="1066.5" cy="177.6" r="7.75"/><circle cx="1186.9" cy="186" r="7.75"/><circle cx="1097.9" cy="222.3" r="7.75"/><circle cx="1137.7" cy="228.1" r="7.75"/><circle cx="1107.3" cy="236.5" r="7.75"/><circle cx="1089.9" cy="245.5" r="7.75"/><circle cx="1079.5" cy="249" r="7.75"/><circle cx="1164.4" cy="242.3" r="7.75"/><circle cx="1220.1" cy="242.8" r="7.75"/><circle cx="1253" cy="222.3" r="7.75"/><circle cx="1206.8" cy="253.2" r="7.75"/><circle cx="1110.8" cy="255.3" r="7.75"/><circle cx="1124" cy="257" r="7.75"/><circle cx="1138.2" cy="259.8" r="7.75"/><circle cx="1105.9" cy="268.5" r="7.75"/><circle cx="1065.6" cy="273.4" r="7.75"/><circle cx="1065.6" cy="288" r="7.75"/><circle cx="1086.2" cy="287.3" r="7.75"/><circle cx="1105.9" cy="288" r="7.75"/><circle cx="1110.1" cy="285.2" r="7.75"/><circle cx="1120.1" cy="293.2" r="7.75"/><circle cx="1067.7" cy="308.2" r="7.75"/><circle cx="1076.7" cy="317.2" r="7.75"/><circle cx="1065.6" cy="322.1" r="7.75"/><circle cx="1115.9" cy="322.1" r="7.75"/><circle cx="1220.3" cy="327.7" r="7.75"/><circle cx="1064.5" cy="340.9" r="7.75"/><circle cx="1098.3" cy="347.6" r="7.75"/><circle cx="1069.7" cy="362.5" r="7.75"/><circle cx="1088.5" cy="385.2" r="7.75"/><circle cx="970.6" cy="355.7" r="7.75"/><circle cx="964.4" cy="364.1" r="7.75"/><circle cx="991.5" cy="366.2" r="7.75"/><circle cx="993.6" cy="371.8" r="7.75"/><circle cx="1014.5" cy="364.1" r="7.75"/><circle cx="1018.7" cy="365.5" r="7.75"/><circle cx="1029.8" cy="370.4" r="7.75"/><circle cx="1043.7" cy="370.4" r="7.75"/><circle cx="1006.1" cy="379.4" r="7.75"/><circle cx="1017.3" cy="381.5" r="7.75"/><circle cx="999.2" cy="389.2" r="7.75"/><circle cx="979" cy="388.5" r="7.75"/><circle cx="979.7" cy="403.1" r="7.75"/><circle cx="999.9" cy="399.6" r="7.75"/><circle cx="1043" cy="384.3" r="7.75"/></g>
<g fill="#CC9933"><circle cx="978" cy="192.3" r="7.75"/><circle cx="918.2" cy="219.2" r="7.75"/><circle cx="960.2" cy="220.1" r="7.75"/><circle cx="967.6" cy="215.9" r="7.75"/><circle cx="947.7" cy="247.4" r="7.75"/><circle cx="942.1" cy="253" r="7.75"/><circle cx="888.5" cy="263.7" r="7.75"/><circle cx="898.7" cy="275.5" r="7.75"/><circle cx="918.7" cy="283.9" r="7.75"/><circle cx="909.8" cy="322.1" r="7.75"/><circle cx="938.6" cy="346.7" r="7.75"/><circle cx="943.5" cy="350.9" r="7.75"/><circle cx="947.7" cy="354.4" r="7.75"/><circle cx="905.9" cy="355.1" r="7.75"/><circle cx="901.8" cy="357.8" r="7.75"/><circle cx="922.6" cy="363.4" r="7.75"/><circle cx="901.8" cy="368.3" r="7.75"/><circle cx="937.9" cy="357.8" r="7.75"/><circle cx="937.2" cy="366.2" r="7.75"/><circle cx="953.2" cy="370.4" r="7.75"/><circle cx="910.1" cy="378.7" r="7.75"/><circle cx="910.1" cy="371.8" r="7.75"/><circle cx="928.2" cy="374.5" r="7.75"/><circle cx="925.4" cy="382.9" r="7.75"/><circle cx="937.9" cy="377.3" r="7.75"/><circle cx="943.5" cy="378.7" r="7.75"/><circle cx="925.4" cy="389.8" r="7.75"/><circle cx="935.2" cy="389.8" r="7.75"/><circle cx="946.3" cy="388.5" r="7.75"/><circle cx="957.4" cy="389.2" r="7.75"/><circle cx="896.9" cy="401.7" r="7.75"/><circle cx="918.5" cy="403.1" r="7.75"/><circle cx="926.8" cy="402.4" r="7.75"/><circle cx="937.9" cy="399.6" r="7.75"/><circle cx="949.1" cy="398.2" r="7.75"/><circle cx="954.6" cy="402.4" r="7.75"/><circle cx="889.9" cy="414.2" r="7.75"/><circle cx="885.1" cy="422.6" r="7.75"/><circle cx="901.8" cy="422.6" r="7.75"/><circle cx="914.3" cy="419.1" r="7.75"/><circle cx="925.4" cy="413.5" r="7.75"/><circle cx="932.4" cy="421.9" r="7.75"/><circle cx="940.7" cy="416.3" r="7.75"/><circle cx="949.1" cy="423.2" r="7.75"/><circle cx="956" cy="416.3" r="7.75"/><circle cx="957.4" cy="427.4" r="7.75"/><circle cx="917.1" cy="431.6" r="7.75"/><circle cx="967.9" cy="433" r="7.75"/><circle cx="879.5" cy="437.2" r="7.75"/><circle cx="884.4" cy="452.5" r="7.75"/><circle cx="898.3" cy="454.6" r="7.75"/></g>
<g fill="#999999"><circle cx="901.1" cy="451.1" r="7.75"/><circle cx="892" cy="465.7" r="7.75"/><circle cx="935.2" cy="504" r="7.75"/><circle cx="956" cy="476.1" r="7.75"/><circle cx="876.7" cy="448.3" r="7.75"/><circle cx="932.4" cy="452.5" r="7.75"/><circle cx="980.4" cy="485.2" r="7.75"/><circle cx="990.8" cy="477.5" r="7.75"/><circle cx="996.4" cy="484.5" r="7.75"/><circle cx="1004.1" cy="486.6" r="7.75"/><circle cx="1014.5" cy="483.1" r="7.75"/><circle cx="1017.3" cy="495.6" r="7.75"/><circle cx="1027" cy="495.6" r="7.75"/><circle cx="1036.8" cy="477.5" r="7.75"/><circle cx="1039.5" cy="493.5" r="7.75"/><circle cx="1053.5" cy="487.3" r="7.75"/><circle cx="1056.2" cy="506.8" r="7.75"/><circle cx="949.1" cy="483.1" r="7.75"/><circle cx="963" cy="491.8" r="7.75"/><circle cx="952.3" cy="535.3" r="7.75"/><circle cx="963.1" cy="541.2" r="7.75"/><circle cx="933.5" cy="546.6" r="7.75"/><circle cx="969.5" cy="573.4" r="7.75"/><circle cx="963.1" cy="587.4" r="7.75"/><circle cx="966.3" cy="609.4" r="7.75"/><circle cx="1063.4" cy="491.2" r="7.75"/><circle cx="1071.2" cy="495.7" r="7.75"/><circle cx="1075.6" cy="500.7" r="7.75"/><circle cx="1070.1" cy="504.6" r="7.75"/><circle cx="1071.7" cy="523" r="7.75"/><circle cx="1075.1" cy="527.4" r="7.75"/><circle cx="1128" cy="525.7" r="7.75"/><circle cx="1067.8" cy="562.5" r="7.75"/><circle cx="1183.6" cy="556.4" r="7.75"/><circle cx="1167.5" cy="581.4" r="7.75"/></g>
<g fill="#339900"><circle cx="866.3" cy="443.4" r="7.75"/><circle cx="869" cy="454.6" r="7.75"/><circle cx="903.1" cy="447.6" r="7.75"/><circle cx="921.2" cy="449.7" r="7.75"/><circle cx="925.4" cy="452.5" r="7.75"/><circle cx="904.5" cy="465" r="7.75"/><circle cx="917.1" cy="462.2" r="7.75"/><circle cx="943.5" cy="467.8" r="7.75"/><circle cx="957.4" cy="484.5" r="7.75"/><circle cx="915.7" cy="485.9" r="7.75"/><circle cx="929.6" cy="491.4" r="7.75"/><circle cx="907.3" cy="495.6" r="7.75"/><circle cx="892" cy="506.1" r="7.75"/><circle cx="899.7" cy="509.5" r="7.75"/><circle cx="908.7" cy="522.1" r="7.75"/><circle cx="917.1" cy="520.7" r="7.75"/><circle cx="954.6" cy="510.9" r="7.75"/><circle cx="963" cy="499.8" r="7.75"/><circle cx="932.4" cy="455.3" r="7.75"/><circle cx="911.5" cy="527.2" r="7.75"/><circle cx="900.8" cy="536.9" r="7.75"/><circle cx="937.3" cy="535.8" r="7.75"/><circle cx="960.4" cy="546" r="7.75"/><circle cx="933" cy="580.9" r="7.75"/><circle cx="959.8" cy="586.3" r="7.75"/><circle cx="950.7" cy="598.1" r="7.75"/></g>
<g fill="#669900"><circle cx="909.4" cy="441.3" r="7.75"/><circle cx="904.5" cy="478.2" r="7.75"/><circle cx="921.2" cy="477.5" r="7.75"/><circle cx="932.4" cy="474.7" r="7.75"/><circle cx="882.3" cy="494.9" r="7.75"/><circle cx="915.7" cy="493.5" r="7.75"/><circle cx="925.4" cy="504" r="7.75"/><circle cx="926.8" cy="510.2" r="7.75"/><circle cx="940.7" cy="499.8" r="7.75"/><circle cx="954.6" cy="499.1" r="7.75"/><circle cx="940.7" cy="519.3" r="7.75"/><circle cx="949.1" cy="470.6" r="7.75"/><circle cx="937.9" cy="483.1" r="7.75"/><circle cx="941.6" cy="511.1" r="7.75"/><circle cx="959.8" cy="556.8" r="7.75"/><circle cx="954.5" cy="579.3" r="7.75"/><circle cx="944.8" cy="587.9" r="7.75"/><circle cx="973.8" cy="607.8" r="7.75"/></g>
<g fill="#000000"><circle cx="1375.1" cy="302.5" r="7.75"/><circle cx="1385.1" cy="306.7" r="7.75"/><circle cx="1391.8" cy="311.7" r="7.75"/><circle cx="1391.8" cy="318.1" r="7.75"/><circle cx="1383.4" cy="461.2" r="7.75"/><circle cx="1399.3" cy="457" r="7.75"/><circle cx="1402.6" cy="465.4" r="7.75"/><circle cx="1390.1" cy="473.7" r="7.75"/><circle cx="1400.1" cy="475.4" r="7.75"/><circle cx="1388.4" cy="485.4" r="7.75"/><circle cx="1398.5" cy="485.4" r="7.75"/><circle cx="1386.8" cy="492.1" r="7.75"/><circle cx="1396.8" cy="495.4" r="7.75"/><circle cx="1390.1" cy="503.8" r="7.75"/><circle cx="1398.5" cy="507.1" r="7.75"/><circle cx="1395.1" cy="500.5" r="7.75"/><circle cx="1403.5" cy="480.4" r="7.75"/><circle cx="1393.4" cy="468.7" r="7.75"/></g>
<g><circle cx="906.4" cy="355.7" r="7.75" fill="#CC9933"/><circle cx="902.3" cy="358.1" r="7.75" fill="#CC9933"/><circle cx="901.6" cy="368.5" r="7.75" fill="#CC9933"/><circle cx="909.9" cy="376.2" r="7.75" fill="#CC9933"/><circle cx="910.6" cy="381.8" r="7.75" fill="#CC9933"/><circle cx="922.1" cy="364" r="7.75" fill="#CC9933"/><circle cx="938.5" cy="347.3" r="7.75" fill="#CC9933"/><circle cx="944" cy="351.8" r="7.75" fill="#CC9933"/><circle cx="946.1" cy="357.4" r="7.75" fill="#CC9933"/><circle cx="937.8" cy="358.1" r="7.75" fill="#CC9933"/><circle cx="953.8" cy="369.9" r="7.75" fill="#CC9933"/><circle cx="939.8" cy="367.8" r="7.75" fill="#CC9933"/><circle cx="928" cy="376.2" r="7.75" fill="#CC9933"/><circle cx="941.2" cy="376.2" r="7.75" fill="#CC9933"/><circle cx="924.5" cy="390.1" r="7.75" fill="#CC9933"/><circle cx="940.5" cy="385.2" r="7.75" fill="#CC9933"/><circle cx="957.9" cy="388.7" r="7.75" fill="#CC9933"/><circle cx="896.7" cy="401.9" r="7.75" fill="#CC9933"/><circle cx="917.6" cy="403.3" r="7.75" fill="#CC9933"/><circle cx="932.9" cy="397.1" r="7.75" fill="#CC9933"/><circle cx="949.6" cy="399.2" r="7.75" fill="#CC9933"/><circle cx="953.1" cy="408.2" r="7.75" fill="#CC9933"/><circle cx="956.5" cy="416.5" r="7.75" fill="#CC9933"/><circle cx="889.7" cy="413.8" r="7.75" fill="#CC9933"/><circle cx="885.6" cy="422.8" r="7.75" fill="#CC9933"/><circle cx="903" cy="422.1" r="7.75" fill="#CC9933"/><circle cx="916.9" cy="430.5" r="7.75" fill="#CC9933"/><circle cx="919.7" cy="415.2" r="7.75" fill="#CC9933"/><circle cx="932.9" cy="421.4" r="7.75" fill="#CC9933"/><circle cx="946.1" cy="424.9" r="7.75" fill="#CC9933"/><circle cx="956.5" cy="428.4" r="7.75" fill="#CC9933"/><circle cx="968.4" cy="432.6" r="7.75" fill="#CC9933"/><circle cx="881.4" cy="435.3" r="7.75" fill="#CC9933"/><circle cx="935.7" cy="408.2" r="7.75" fill="#CC9933"/><circle cx="927.3" cy="404" r="7.75" fill="#CC9933"/><circle cx="920.4" cy="341.4" r="7.75" fill="#996600"/><circle cx="970.5" cy="356" r="7.75" fill="#996600"/><circle cx="962.8" cy="364.4" r="7.75" fill="#996600"/><circle cx="978.1" cy="388" r="7.75" fill="#996600"/><circle cx="978.1" cy="402.6" r="7.75" fill="#996600"/><circle cx="877.5" cy="448.8" r="7.75" fill="#999999"/><circle cx="901.3" cy="450.7" r="7.75" fill="#999999"/><circle cx="891.9" cy="465.7" r="7.75" fill="#999999"/><circle cx="879.4" cy="438.1" r="7.75" fill="#CC9933"/><circle cx="884.4" cy="452.5" r="7.75" fill="#CC9933"/><circle cx="898.2" cy="455" r="7.75" fill="#CC9933"/><circle cx="908.8" cy="441.3" r="7.75" fill="#669900"/><circle cx="901.3" cy="446.3" r="7.75" fill="#339900"/><circle cx="918.8" cy="451.3" r="7.75" fill="#339900"/><circle cx="926.4" cy="453.8" r="7.75" fill="#339900"/><circle cx="932.6" cy="453.8" r="7.75" fill="#999999"/><circle cx="903.8" cy="464.4" r="7.75" fill="#339900"/><circle cx="920.1" cy="463.2" r="7.75" fill="#339900"/><circle cx="938.9" cy="460" r="7.75" fill="#669900"/><circle cx="951.4" cy="470.1" r="7.75" fill="#669900"/><circle cx="943.3" cy="467.6" r="7.75" fill="#339900"/><circle cx="904.4" cy="478.2" r="7.75" fill="#669900"/><circle cx="922" cy="477.6" r="7.75" fill="#669900"/><circle cx="930.1" cy="478.8" r="7.75" fill="#669900"/><circle cx="962.7" cy="491.4" r="7.75" fill="#999999"/><circle cx="956.4" cy="485.1" r="7.75" fill="#339900"/><circle cx="948.9" cy="483.8" r="7.75" fill="#999999"/><circle cx="917.6" cy="486.3" r="7.75" fill="#339900"/><circle cx="929.5" cy="491.4" r="7.75" fill="#339900"/><circle cx="882.5" cy="494.5" r="7.75" fill="#669900"/><circle cx="906.9" cy="495.7" r="7.75" fill="#339900"/><circle cx="915.1" cy="493.2" r="7.75" fill="#669900"/><circle cx="938.9" cy="507" r="7.75" fill="#999999"/><circle cx="923.2" cy="500.7" r="7.75" fill="#669900"/><circle cx="941.4" cy="499.5" r="7.75" fill="#669900"/><circle cx="953.9" cy="498.2" r="7.75" fill="#669900"/><circle cx="962.7" cy="499.5" r="7.75" fill="#339900"/><circle cx="891.9" cy="506.4" r="7.75" fill="#339900"/><circle cx="899.4" cy="509.5" r="7.75" fill="#339900"/><circle cx="926.4" cy="511.4" r="7.75" fill="#669900"/><circle cx="935.1" cy="466.3" r="7.75" fill="#339900"/><circle cx="954.5" cy="510.8" r="7.75" fill="#339900"/><circle cx="908.8" cy="520.2" r="7.75" fill="#339900"/><circle cx="918.2" cy="520.2" r="7.75" fill="#339900"/><circle cx="940.8" cy="516.4" r="7.75" fill="#669900"/><circle cx="940.1" cy="522.7" r="7.75" fill="#669900"/><circle cx="924.3" cy="455.3" r="7.75" fill="#339900"/><circle cx="931.2" cy="459.1" r="7.75" fill="#339900"/><circle cx="913.6" cy="453" r="7.75" fill="#339900"/><circle cx="927.3" cy="453.7" r="7.75" fill="#339900"/><circle cx="959.7" cy="586.3" r="7.75" fill="#339900"/><circle cx="966.3" cy="609.4" r="7.75" fill="#999999"/></g>
<line x1="840.5" y1="763.8" x2="1427.6" y2="763.8" stroke="#111" stroke-width="2.0" stroke-linecap="square"/>
<line x1="1427.6" y1="763.8" x2="1427.6" y2="1355.1" stroke="#111" stroke-width="2.0" stroke-linecap="square"/>
<line x1="840.5" y1="1355.1" x2="1427.6" y2="1355.1" stroke="#2e2e2e" stroke-width="2.3" stroke-linecap="square"/>
<line x1="840.5" y1="763.8" x2="840.5" y2="1355.1" stroke="#555" stroke-width="1.8" stroke-linecap="square"/>
<line x1="836.5" y1="1293.9" x2="840.5" y2="1293.9" stroke="#444" stroke-width="1.7"/>
<text x="824.5" y="1303.5" font-size="29.0" text-anchor="end" font-weight="normal" >&#8722;2</text>
<line x1="836.5" y1="1174.7" x2="840.5" y2="1174.7" stroke="#444" stroke-width="1.7"/>
<text x="824.5" y="1184.3" font-size="29.0" text-anchor="end" font-weight="normal" >&#8722;1</text>
<line x1="836.5" y1="1055.5" x2="840.5" y2="1055.5" stroke="#444" stroke-width="1.7"/>
<text x="824.5" y="1065.1" font-size="29.0" text-anchor="end" font-weight="normal" >0</text>
<line x1="836.5" y1="936.3" x2="840.5" y2="936.3" stroke="#444" stroke-width="1.7"/>
<text x="824.5" y="945.9" font-size="29.0" text-anchor="end" font-weight="normal" >1</text>
<line x1="836.5" y1="817.1" x2="840.5" y2="817.1" stroke="#444" stroke-width="1.7"/>
<text x="824.5" y="826.7" font-size="29.0" text-anchor="end" font-weight="normal" >2</text>
<line x1="919.8" y1="1355.1" x2="919.8" y2="1359.1" stroke="#444" stroke-width="1.7"/>
<text x="917.3" y="1390.8" font-size="29.0" text-anchor="middle" font-weight="normal" >&#8722;1</text>
<line x1="1059.4" y1="1355.1" x2="1059.4" y2="1359.1" stroke="#444" stroke-width="1.7"/>
<text x="1059.4" y="1390.8" font-size="29.0" text-anchor="middle" font-weight="normal" >0</text>
<line x1="1199" y1="1355.1" x2="1199" y2="1359.1" stroke="#444" stroke-width="1.7"/>
<text x="1199" y="1390.8" font-size="29.0" text-anchor="middle" font-weight="normal" >1</text>
<line x1="1338.6" y1="1355.1" x2="1338.6" y2="1359.1" stroke="#444" stroke-width="1.7"/>
<text x="1338.6" y="1390.8" font-size="29.0" text-anchor="middle" font-weight="normal" >2</text>
<text x="1131.8" y="1435.6" font-size="29.0" text-anchor="middle" font-weight="normal" >NMDS 1</text>
<text transform="translate(776.5,1062) rotate(-90)" font-size="29.0" text-anchor="middle">NMDS 2</text>
<g fill="#996600"><circle cx="971.9" cy="1083" r="7.75"/><circle cx="1005" cy="1097.2" r="7.75"/><circle cx="1039.3" cy="1113.2" r="7.75"/><circle cx="1022.7" cy="1128" r="7.75"/><circle cx="1049.9" cy="1116.2" r="7.75"/><circle cx="1052.4" cy="1121.2" r="7.75"/><circle cx="1072.4" cy="1116.7" r="7.75"/><circle cx="1079.1" cy="1122.3" r="7.75"/><circle cx="1090.8" cy="1131.8" r="7.75"/><circle cx="1022.3" cy="1139" r="7.75"/><circle cx="1006.5" cy="1138.4" r="7.75"/><circle cx="1039" cy="1147.7" r="7.75"/><circle cx="1056.3" cy="1153.2" r="7.75"/><circle cx="1076.9" cy="1154.6" r="7.75"/><circle cx="1106.4" cy="1140.7" r="7.75"/><circle cx="1139.8" cy="1136.5" r="7.75"/><circle cx="1132.3" cy="1155.9" r="7.75"/><circle cx="1052.4" cy="1176.3" r="7.75"/><circle cx="1088.6" cy="1197.8" r="7.75"/><circle cx="1135.3" cy="1195.2" r="7.75"/><circle cx="1159.3" cy="1174.1" r="7.75"/><circle cx="1164.3" cy="1184.6" r="7.75"/><circle cx="1179.3" cy="1167.9" r="7.75"/><circle cx="1174.9" cy="1217.5" r="7.75"/><circle cx="1189.9" cy="1169.9" r="7.75"/><circle cx="1198.9" cy="1194.1" r="7.75"/><circle cx="1204" cy="1193.5" r="7.75"/><circle cx="1231.6" cy="1195.8" r="7.75"/><circle cx="1245.1" cy="1196.9" r="7.75"/><circle cx="1263.7" cy="1192.4" r="7.75"/><circle cx="1278.4" cy="1193" r="7.75"/><circle cx="1303.2" cy="1190.2" r="7.75"/><circle cx="1282.3" cy="1170.4" r="7.75"/><circle cx="1347.1" cy="1176.1" r="7.75"/><circle cx="1197.2" cy="1217.8" r="7.75"/><circle cx="1205.1" cy="1216.1" r="7.75"/><circle cx="1225.9" cy="1214.4" r="7.75"/><circle cx="1250.2" cy="1215" r="7.75"/><circle cx="1251.3" cy="1221.2" r="7.75"/><circle cx="1253.6" cy="1224.5" r="7.75"/><circle cx="1259.2" cy="1203.1" r="7.75"/><circle cx="1264.8" cy="1207.6" r="7.75"/><circle cx="1272.7" cy="1208.8" r="7.75"/><circle cx="1279.5" cy="1207.6" r="7.75"/><circle cx="1276.1" cy="1221.2" r="7.75"/><circle cx="1294.1" cy="1214.4" r="7.75"/><circle cx="1289.6" cy="1217.8" r="7.75"/><circle cx="1243.4" cy="1239.2" r="7.75"/><circle cx="1263.1" cy="1234.1" r="7.75"/><circle cx="1275" cy="1232.4" r="7.75"/><circle cx="1284.6" cy="1233" r="7.75"/><circle cx="1300.3" cy="1231.9" r="7.75"/><circle cx="1307.7" cy="1225.7" r="7.75"/><circle cx="1313.3" cy="1229" r="7.75"/><circle cx="1318.9" cy="1219.5" r="7.75"/><circle cx="1326.8" cy="1225.7" r="7.75"/><circle cx="1334.7" cy="1225.7" r="7.75"/><circle cx="1179.8" cy="1247.4" r="7.75"/><circle cx="1193.8" cy="1256.5" r="7.75"/><circle cx="1200.2" cy="1260.3" r="7.75"/><circle cx="1206.7" cy="1275.8" r="7.75"/><circle cx="1180.4" cy="1287.6" r="7.75"/><circle cx="1197" cy="1290.9" r="7.75"/><circle cx="1147.6" cy="1273.7" r="7.75"/><circle cx="1141.2" cy="1281.7" r="7.75"/><circle cx="1117" cy="1303.2" r="7.75"/><circle cx="1183.6" cy="1312.9" r="7.75"/><circle cx="1176.6" cy="1328.4" r="7.75"/></g>
<g fill="#CC9933"><circle cx="896.7" cy="1009.7" r="7.75"/><circle cx="912.1" cy="1009.7" r="7.75"/><circle cx="912.1" cy="1022.7" r="7.75"/><circle cx="928.1" cy="1022.7" r="7.75"/><circle cx="909.2" cy="1031" r="7.75"/><circle cx="866.6" cy="1074.2" r="7.75"/><circle cx="897.3" cy="1082.4" r="7.75"/><circle cx="919.8" cy="1074.2" r="7.75"/><circle cx="930.4" cy="1060.6" r="7.75"/><circle cx="950.6" cy="1045.2" r="7.75"/><circle cx="962.4" cy="1053.5" r="7.75"/><circle cx="969.5" cy="1062.9" r="7.75"/><circle cx="960" cy="1072.4" r="7.75"/><circle cx="956.5" cy="1083" r="7.75"/><circle cx="939.9" cy="1087.8" r="7.75"/><circle cx="930.4" cy="1096" r="7.75"/><circle cx="928.7" cy="1104.3" r="7.75"/><circle cx="965.3" cy="1115" r="7.75"/><circle cx="990.8" cy="1079.5" r="7.75"/><circle cx="935.2" cy="1072.4" r="7.75"/><circle cx="944.6" cy="1072.4" r="7.75"/><circle cx="925.7" cy="1083" r="7.75"/><circle cx="899.7" cy="1052.9" r="7.75"/><circle cx="907.4" cy="1120.3" r="7.75"/></g>
<g fill="#999999"><circle cx="915.7" cy="790.2" r="7.75"/><circle cx="988.5" cy="877.4" r="7.75"/><circle cx="943.2" cy="934.6" r="7.75"/><circle cx="962.4" cy="978.3" r="7.75"/><circle cx="981.9" cy="978.9" r="7.75"/><circle cx="996.7" cy="984.3" r="7.75"/><circle cx="967.7" cy="993.1" r="7.75"/><circle cx="958.2" cy="998.4" r="7.75"/><circle cx="987.2" cy="997.3" r="7.75"/><circle cx="1000.8" cy="1002" r="7.75"/><circle cx="1030.4" cy="999" r="7.75"/><circle cx="954.1" cy="1013.8" r="7.75"/><circle cx="973" cy="1008.5" r="7.75"/><circle cx="1009.7" cy="1014.4" r="7.75"/><circle cx="1015.6" cy="1026.8" r="7.75"/><circle cx="1009.7" cy="1041.6" r="7.75"/><circle cx="1005" cy="1052.3" r="7.75"/><circle cx="992" cy="1045.2" r="7.75"/><circle cx="975.4" cy="1057" r="7.75"/><circle cx="980.1" cy="1041.6" r="7.75"/><circle cx="968.3" cy="1026.2" r="7.75"/><circle cx="956.5" cy="1033.3" r="7.75"/><circle cx="962.4" cy="1042.8" r="7.75"/><circle cx="986" cy="1021.5" r="7.75"/><circle cx="992" cy="1031" r="7.75"/><circle cx="952.9" cy="1020.3" r="7.75"/><circle cx="977.8" cy="1019.2" r="7.75"/></g>
<g fill="#339900"><circle cx="911" cy="906.7" r="7.75"/><circle cx="867.7" cy="980.7" r="7.75"/><circle cx="895.5" cy="991.9" r="7.75"/><circle cx="884.3" cy="1023.9" r="7.75"/><circle cx="900.9" cy="1031" r="7.75"/><circle cx="895" cy="1041.6" r="7.75"/><circle cx="921" cy="1012.1" r="7.75"/><circle cx="926.9" cy="1016.8" r="7.75"/><circle cx="937.5" cy="1026.2" r="7.75"/><circle cx="891.4" cy="1057" r="7.75"/><circle cx="895" cy="1064.1" r="7.75"/><circle cx="906.8" cy="1072.4" r="7.75"/><circle cx="916.2" cy="1085.4" r="7.75"/><circle cx="914.5" cy="1094.3" r="7.75"/><circle cx="909.2" cy="1042.8" r="7.75"/><circle cx="919.8" cy="1048.7" r="7.75"/><circle cx="903.2" cy="1060.6" r="7.75"/><circle cx="911.5" cy="1054.6" r="7.75"/><circle cx="950" cy="1086" r="7.75"/></g>
<g fill="#669900"><circle cx="932.8" cy="1036.9" r="7.75"/><circle cx="941.1" cy="1060.6" r="7.75"/><circle cx="897.3" cy="1118.5" r="7.75"/><circle cx="928.1" cy="1084.2" r="7.75"/><circle cx="937.5" cy="1042.8" r="7.75"/></g>
<g fill="#000000"><circle cx="1269.5" cy="792.2" r="7.75"/><circle cx="1280.2" cy="805.5" r="7.75"/><circle cx="1293.8" cy="830.6" r="7.75"/><circle cx="1299.7" cy="827.1" r="7.75"/><circle cx="1312.7" cy="837.1" r="7.75"/><circle cx="1309.2" cy="850.7" r="7.75"/><circle cx="1310.3" cy="846" r="7.75"/><circle cx="1326.9" cy="847.8" r="7.75"/><circle cx="1323.9" cy="863.1" r="7.75"/><circle cx="1359.4" cy="890.9" r="7.75"/><circle cx="1356.5" cy="896.9" r="7.75"/><circle cx="1360" cy="907.5" r="7.75"/><circle cx="1370.7" cy="911.6" r="7.75"/><circle cx="1338.7" cy="915.2" r="7.75"/><circle cx="1345.8" cy="912.2" r="7.75"/><circle cx="1332.8" cy="925.8" r="7.75"/><circle cx="1345.8" cy="922.9" r="7.75"/><circle cx="1354.1" cy="917" r="7.75"/><circle cx="1344.6" cy="932.3" r="7.75"/><circle cx="1357.7" cy="935.3" r="7.75"/><circle cx="1379.5" cy="931.8" r="7.75"/><circle cx="1391.4" cy="931.8" r="7.75"/><circle cx="1370.5" cy="944.8" r="7.75"/><circle cx="1352.2" cy="954.3" r="7.75"/><circle cx="1356.9" cy="959.6" r="7.75"/><circle cx="1377" cy="954.8" r="7.75"/><circle cx="1369.9" cy="964.3" r="7.75"/><circle cx="1378.2" cy="967.9" r="7.75"/><circle cx="1357.5" cy="970.8" r="7.75"/><circle cx="1374.1" cy="976.7" r="7.75"/><circle cx="1401.3" cy="960.2" r="7.75"/><circle cx="1379.4" cy="990.3" r="7.75"/><circle cx="1373.5" cy="996.2" r="7.75"/><circle cx="1365.8" cy="1001" r="7.75"/><circle cx="1378.8" cy="1005.7" r="7.75"/><circle cx="1363.4" cy="1014.6" r="7.75"/><circle cx="1368.7" cy="1019.9" r="7.75"/><circle cx="1365.2" cy="1024.6" r="7.75"/><circle cx="1381.7" cy="1029.4" r="7.75"/><circle cx="1372.3" cy="1034.1" r="7.75"/><circle cx="1369.9" cy="1040" r="7.75"/><circle cx="1378.2" cy="1042.4" r="7.75"/><circle cx="1381.7" cy="1037.7" r="7.75"/><circle cx="1367.5" cy="1057.2" r="7.75"/><circle cx="1368.7" cy="1063.7" r="7.75"/><circle cx="1395.3" cy="1054.8" r="7.75"/><circle cx="1383.5" cy="1073.1" r="7.75"/><circle cx="1384.1" cy="1084.4" r="7.75"/><circle cx="1378.8" cy="1087.9" r="7.75"/><circle cx="1360.1" cy="895.6" r="7.75"/><circle cx="1355.6" cy="920.1" r="7.75"/><circle cx="1354.5" cy="911.2" r="7.75"/></g>
<g><circle cx="962.2" cy="978.5" r="7.75" fill="#999999"/><circle cx="981.9" cy="979.1" r="7.75" fill="#999999"/><circle cx="996.7" cy="984.1" r="7.75" fill="#999999"/><circle cx="967.5" cy="993.5" r="7.75" fill="#999999"/><circle cx="958.1" cy="998.2" r="7.75" fill="#999999"/><circle cx="987.6" cy="998.5" r="7.75" fill="#999999"/><circle cx="1001" cy="1002.9" r="7.75" fill="#999999"/><circle cx="1030.2" cy="998.8" r="7.75" fill="#999999"/><circle cx="973.8" cy="1008.2" r="7.75" fill="#999999"/><circle cx="1009.5" cy="1013.9" r="7.75" fill="#999999"/><circle cx="955.6" cy="1013.2" r="7.75" fill="#999999"/><circle cx="1015.8" cy="1027" r="7.75" fill="#999999"/><circle cx="990.7" cy="1018.2" r="7.75" fill="#999999"/><circle cx="968.8" cy="1021.4" r="7.75" fill="#999999"/><circle cx="984.4" cy="1024.5" r="7.75" fill="#999999"/><circle cx="990.7" cy="1030.8" r="7.75" fill="#999999"/><circle cx="1006.4" cy="1034.5" r="7.75" fill="#999999"/><circle cx="1010.1" cy="1041.4" r="7.75" fill="#999999"/><circle cx="978.2" cy="1043.3" r="7.75" fill="#999999"/><circle cx="990.7" cy="1047" r="7.75" fill="#999999"/><circle cx="1004.5" cy="1051.4" r="7.75" fill="#999999"/><circle cx="962.5" cy="1040.2" r="7.75" fill="#999999"/><circle cx="956.3" cy="1024.5" r="7.75" fill="#999999"/><circle cx="976.3" cy="1053.9" r="7.75" fill="#999999"/><circle cx="975.1" cy="1008.8" r="7.75" fill="#999999"/><circle cx="990.7" cy="1008.8" r="7.75" fill="#999999"/><circle cx="980.1" cy="1030.8" r="7.75" fill="#999999"/><circle cx="991.3" cy="1012.6" r="7.75" fill="#999999"/><circle cx="978.2" cy="1001.3" r="7.75" fill="#999999"/><circle cx="970.7" cy="1027.6" r="7.75" fill="#999999"/><circle cx="955.1" cy="1003.1" r="7.75" fill="#999999"/><circle cx="970.8" cy="1009.4" r="7.75" fill="#999999"/><circle cx="953.9" cy="1018.8" r="7.75" fill="#999999"/><circle cx="967.7" cy="1025" r="7.75" fill="#999999"/><circle cx="961.4" cy="1037.6" r="7.75" fill="#999999"/><circle cx="973.9" cy="1043.8" r="7.75" fill="#999999"/><circle cx="975.8" cy="1056.4" r="7.75" fill="#999999"/><circle cx="920.1" cy="1011.3" r="7.75" fill="#339900"/><circle cx="928.2" cy="1016.3" r="7.75" fill="#339900"/><circle cx="896.6" cy="1009.4" r="7.75" fill="#CC9933"/><circle cx="911.9" cy="1009.4" r="7.75" fill="#CC9933"/><circle cx="884.7" cy="1024.1" r="7.75" fill="#339900"/><circle cx="912.6" cy="1021.9" r="7.75" fill="#CC9933"/><circle cx="928.2" cy="1022.5" r="7.75" fill="#CC9933"/><circle cx="937.6" cy="1026.3" r="7.75" fill="#339900"/><circle cx="901.3" cy="1030.1" r="7.75" fill="#339900"/><circle cx="907.6" cy="1031.3" r="7.75" fill="#CC9933"/><circle cx="915.1" cy="1038.8" r="7.75" fill="#339900"/><circle cx="925.1" cy="1035.1" r="7.75" fill="#669900"/><circle cx="927.6" cy="1040.7" r="7.75" fill="#669900"/><circle cx="932.6" cy="1037.6" r="7.75" fill="#669900"/><circle cx="936.4" cy="1043.8" r="7.75" fill="#669900"/><circle cx="896.3" cy="1041.3" r="7.75" fill="#339900"/><circle cx="908.2" cy="1043.8" r="7.75" fill="#339900"/><circle cx="917.6" cy="1047.6" r="7.75" fill="#339900"/><circle cx="920.1" cy="1045.1" r="7.75" fill="#339900"/><circle cx="948.9" cy="1043.8" r="7.75" fill="#CC9933"/><circle cx="952" cy="1050.1" r="7.75" fill="#CC9933"/><circle cx="900" cy="1053.2" r="7.75" fill="#CC9933"/><circle cx="892.5" cy="1057.6" r="7.75" fill="#339900"/><circle cx="933.2" cy="1055.1" r="7.75" fill="#CC9933"/><circle cx="941.4" cy="1060.1" r="7.75" fill="#669900"/><circle cx="961.4" cy="1056.4" r="7.75" fill="#CC9933"/><circle cx="967.7" cy="1062.6" r="7.75" fill="#CC9933"/><circle cx="952" cy="1062.6" r="7.75" fill="#CC9933"/><circle cx="921.3" cy="1075.1" r="7.75" fill="#CC9933"/><circle cx="936.4" cy="1072" r="7.75" fill="#CC9933"/><circle cx="955.1" cy="1075.1" r="7.75" fill="#CC9933"/><circle cx="964.5" cy="1072" r="7.75" fill="#CC9933"/><circle cx="906.3" cy="1072" r="7.75" fill="#339900"/><circle cx="894.4" cy="1063.9" r="7.75" fill="#339900"/><circle cx="897.5" cy="1082.7" r="7.75" fill="#CC9933"/><circle cx="916.9" cy="1086.4" r="7.75" fill="#339900"/><circle cx="950.1" cy="1085.8" r="7.75" fill="#339900"/><circle cx="971.4" cy="1082" r="7.75" fill="#996600"/><circle cx="930.1" cy="1081.4" r="7.75" fill="#CC9933"/><circle cx="925.1" cy="1065.1" r="7.75" fill="#CC9933"/><circle cx="942" cy="1080.2" r="7.75" fill="#CC9933"/><circle cx="912.7" cy="1060.6" r="7.75" fill="#339900"/></g>
<line x1="1481.3" y1="58.9" x2="1481.3" y2="117.4" stroke="#333333" stroke-width="3.4"/>
<rect x="1459.9" y="71" width="42.8" height="34.2" fill="#CC9933" stroke="#333333" stroke-width="3.4"/>
<line x1="1459.9" y1="87.9" x2="1502.7" y2="87.9" stroke="#333333" stroke-width="3.4"/>
<ellipse cx="1481.3" cy="87.9" rx="7.4" ry="8.9" fill="#000"/>
<text x="1515.6" y="96.4" font-size="24.95" text-anchor="start" font-weight="normal" >Caterpillars on detached leaves</text>
<line x1="1481.3" y1="126.6" x2="1481.3" y2="185.1" stroke="#333333" stroke-width="3.4"/>
<rect x="1459.9" y="138.7" width="42.8" height="34.2" fill="#996600" stroke="#333333" stroke-width="3.4"/>
<line x1="1459.9" y1="155.6" x2="1502.7" y2="155.6" stroke="#333333" stroke-width="3.4"/>
<ellipse cx="1481.3" cy="155.6" rx="7.4" ry="8.9" fill="#000"/>
<text x="1515.6" y="164.1" font-size="24.95" text-anchor="start" font-weight="normal" >Caterpillars on intact plants</text>
<line x1="1481.3" y1="194.3" x2="1481.3" y2="252.8" stroke="#333333" stroke-width="3.4"/>
<rect x="1459.9" y="206.4" width="42.8" height="34.2" fill="#669900" stroke="#333333" stroke-width="3.4"/>
<line x1="1459.9" y1="223.3" x2="1502.7" y2="223.3" stroke="#333333" stroke-width="3.4"/>
<ellipse cx="1481.3" cy="223.3" rx="7.4" ry="8.9" fill="#000"/>
<text x="1515.6" y="231.8" font-size="24.95" text-anchor="start" font-weight="normal" >Detached leaves</text>
<line x1="1481.3" y1="262" x2="1481.3" y2="320.5" stroke="#333333" stroke-width="3.4"/>
<rect x="1459.9" y="274.1" width="42.8" height="34.2" fill="#339900" stroke="#333333" stroke-width="3.4"/>
<line x1="1459.9" y1="291" x2="1502.7" y2="291" stroke="#333333" stroke-width="3.4"/>
<ellipse cx="1481.3" cy="291" rx="7.4" ry="8.9" fill="#000"/>
<text x="1515.6" y="299.5" font-size="24.95" text-anchor="start" font-weight="normal" >Leaves from intact plants</text>
<line x1="1481.3" y1="329.7" x2="1481.3" y2="388.2" stroke="#333333" stroke-width="3.4"/>
<rect x="1459.9" y="341.8" width="42.8" height="34.2" fill="#CCCCCC" stroke="#333333" stroke-width="3.4"/>
<line x1="1459.9" y1="358.7" x2="1502.7" y2="358.7" stroke="#333333" stroke-width="3.4"/>
<ellipse cx="1481.3" cy="358.7" rx="7.4" ry="8.9" fill="#000"/>
<text x="1515.6" y="367.2" font-size="24.95" text-anchor="start" font-weight="normal" >Roots</text>
<line x1="1481.3" y1="397.4" x2="1481.3" y2="455.9" stroke="#333333" stroke-width="3.4"/>
<rect x="1459.9" y="409.5" width="42.8" height="34.2" fill="#000000" stroke="#333333" stroke-width="3.4"/>
<line x1="1459.9" y1="426.4" x2="1502.7" y2="426.4" stroke="#333333" stroke-width="3.4"/>
<ellipse cx="1481.3" cy="426.4" rx="7.4" ry="8.9" fill="#000"/>
<text x="1515.6" y="434.9" font-size="24.95" text-anchor="start" font-weight="normal" >Soil</text></svg>
</body></html>
